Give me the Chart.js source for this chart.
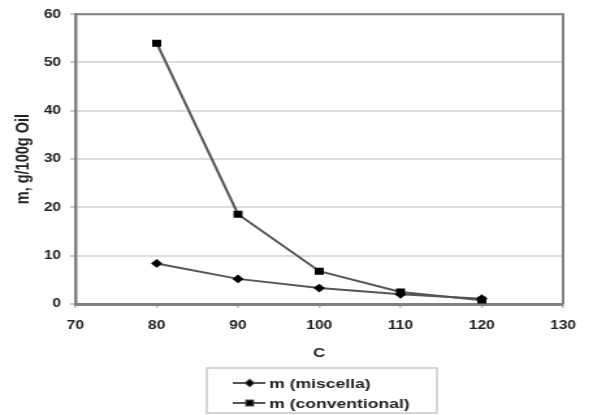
<!DOCTYPE html>
<html>
<head>
<meta charset="utf-8">
<script src="https://cdn.jsdelivr.net/npm/chart.js@4/dist/chart.umd.min.js"></script>
<style>
  html, body { margin: 0; padding: 0; background: #fff; overflow: hidden; }
  /* the reference is stretched sideways, so draw narrow and scale the box */
  #wrap { width: 456px; height: 415px; transform: scaleX(1.3004); transform-origin: 0 0; }
</style>
</head>
<body>
<div id="wrap"><canvas id="chart"></canvas></div>
<script>
const temps = [80, 90, 100, 110, 120];
const miscella = [8.4, 5.2, 3.3, 2.0, 1.1];
const conventional = [54.0, 18.6, 6.8, 2.5, 0.8];
const seriesNames = ['m (miscella)', 'm (conventional)'];
const xTitle = 'C';
const yTitle = 'm, g/100g Oil';

const FONT = "'Liberation Sans', Arial, sans-serif";

// frame on top/right + boxed legend under the axis title
const framePlugin = {
  id: 'frame',
  afterDraw(chart) {
    const { ctx, chartArea: a } = chart;
    ctx.save();
    ctx.strokeStyle = '#808080';
    ctx.lineWidth = 2;
    ctx.beginPath();
    ctx.moveTo(a.left, a.top);
    ctx.lineTo(a.right, a.top);
    ctx.lineTo(a.right, a.bottom);
    ctx.stroke();

    ctx.strokeStyle = '#c8c8c8';
    ctx.lineWidth = 1.5;
    ctx.strokeRect(159, 368, 177, 45);

    chart.data.datasets.forEach((ds, i) => {
      const y = 383 + i * 20;
      ctx.strokeStyle = ds.borderColor;
      ctx.lineWidth = 2;
      ctx.beginPath();
      ctx.moveTo(179, y);
      ctx.lineTo(204, y);
      ctx.stroke();
      Chart.helpers.drawPoint(ctx, {
        pointStyle: ds.pointStyle, radius: ds.pointRadius, rotation: 0, borderWidth: 1
      }, 192, y);
      ctx.fillStyle = '#000';
      ctx.fill();
      ctx.fillStyle = '#222';
      ctx.font = 'bold 13.5px ' + FONT;
      ctx.textBaseline = 'middle';
      ctx.fillText(ds.label, 207, y + 1);
    });
    ctx.restore();
  }
};

new Chart(document.getElementById('chart'), {
  type: 'line',
  data: {
    datasets: [
      {
        label: seriesNames[0],
        data: temps.map((t, i) => ({ x: t, y: miscella[i] })),
        borderColor: '#555',
        borderWidth: 2,
        pointStyle: 'rectRot',
        pointRadius: 3,
        pointBackgroundColor: '#000',
        pointBorderColor: '#000'
      },
      {
        label: seriesNames[1],
        data: temps.map((t, i) => ({ x: t, y: conventional[i] })),
        borderColor: '#555',
        borderWidth: 2,
        pointStyle: 'rect',
        pointRadius: 3.5,
        pointBackgroundColor: '#000',
        pointBorderColor: '#000'
      }
    ]
  },
  options: {
    responsive: true,
    maintainAspectRatio: false,
    animation: false,
    layout: { padding: { left: 0, right: 23, top: 12, bottom: 51 } },
    plugins: { legend: { display: false }, tooltip: { enabled: false } },
    scales: {
      x: {
        type: 'linear',
        min: 70, max: 130,
        ticks: { stepSize: 10, padding: 10, color: '#222', font: { family: FONT, size: 12, weight: 'bold' } },
        grid: { drawOnChartArea: false, tickLength: 4, tickColor: '#bbb', lineWidth: 1.5 },
        border: { color: '#808080', width: 3 },
        title: { display: true, text: xTitle, color: '#222', padding: { top: 0, bottom: 3 },
                 font: { family: FONT, size: 13, weight: 'bold' } },
        afterFit(scale) { scale.height = 60; }
      },
      y: {
        min: 0, max: 60,
        ticks: { stepSize: 10, padding: 7, color: '#222', font: { family: FONT, size: 12, weight: 'bold' } },
        grid: { color: '#dcdcdc', lineWidth: 2, tickLength: 4, tickColor: '#c8c8c8' },
        border: { color: '#808080', width: 2.5 },
        title: { display: true, text: yTitle, color: '#222', padding: { top: 9, bottom: 0 },
                 font: { family: FONT, size: 14.5, weight: 'bold' } },
        afterFit(scale) { scale.width = 58; }
      }
    }
  },
  plugins: [framePlugin]
});
</script>
</body>
</html>
